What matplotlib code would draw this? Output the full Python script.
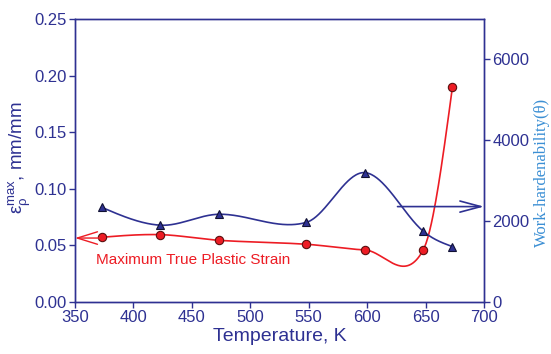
import numpy as np
import matplotlib
matplotlib.use("Agg")
import matplotlib.pyplot as plt

plt.rcParams['font.family'] = ['Liberation Sans', 'DejaVu Sans']
plt.rcParams['mathtext.fontset'] = 'custom'
plt.rcParams['mathtext.rm'] = 'Liberation Sans'
plt.rcParams['mathtext.it'] = 'Liberation Sans'

temperature = [373, 423, 473, 548, 598, 648, 673]
strain = [0.0572, 0.0595, 0.0545, 0.051, 0.046, 0.046, 0.190]
work_hardenability = [2340, 1900, 2170, 1970, 3200, 1750, 1370]

x_ticks = [350, 400, 450, 500, 550, 600, 650, 700]
y_ticks = [0.00, 0.05, 0.10, 0.15, 0.20, 0.25]
y2_ticks = [0, 2000, 4000, 6000]

AX = '#2e3192'
RED = '#ed1c24'
BLUE = '#2e3192'
LBLUE = '#3b8fd4'


def smooth_curve(x, y, n=400):
    """Cubic Hermite curve through the points (Catmull-Rom style tangents)."""
    x = np.asarray(x, float)
    y = np.asarray(y, float)
    k = len(x)
    m = np.zeros(k)
    for i in range(1, k - 1):
        m[i] = (y[i + 1] - y[i - 1]) / (x[i + 1] - x[i - 1])
    s0 = (y[1] - y[0]) / (x[1] - x[0])
    s1 = (y[-1] - y[-2]) / (x[-1] - x[-2])
    m[0] = (3 * s0 - m[1]) / 2
    m[-1] = (3 * s1 - m[-2]) / 2
    xs = np.linspace(x[0], x[-1], n)
    ys = np.empty_like(xs)
    for j, xv in enumerate(xs):
        i = int(np.clip(np.searchsorted(x, xv, side='right') - 1, 0, k - 2))
        h = x[i + 1] - x[i]
        t = (xv - x[i]) / h
        h00 = 2 * t**3 - 3 * t**2 + 1
        h10 = t**3 - 2 * t**2 + t
        h01 = -2 * t**3 + 3 * t**2
        h11 = t**3 - t**2
        ys[j] = h00 * y[i] + h10 * h * m[i] + h01 * y[i + 1] + h11 * h * m[i + 1]
    return xs, ys


fig = plt.figure(figsize=(5.51, 3.54), dpi=100)
ax = fig.add_axes([75 / 551, 1 - 302 / 354, 409 / 551, 283 / 354])
ax2 = ax.twinx()

xs, ys = smooth_curve(temperature, strain)
ax.plot(xs, ys, color=RED, lw=1.2, zorder=3)
ax.plot(temperature, strain, 'o', ms=6, mfc=RED, mec='#5a1010', mew=0.8, zorder=4)

xs2, ys2 = smooth_curve(temperature, work_hardenability)
ax2.plot(xs2, ys2, color=BLUE, lw=1.2, zorder=3)
ax2.plot(temperature, work_hardenability, '^', ms=6, mfc=BLUE, mec='#111133', mew=0.8, zorder=4)

ax.set_xlim(350, 700)
ax.set_ylim(0, 0.25)
ax2.set_ylim(0, 7000)
ax.set_xticks(x_ticks)
ax.set_yticks(y_ticks)
ax.set_yticklabels([f'{v:.2f}' for v in y_ticks])
ax2.set_yticks(y2_ticks)

for a in (ax, ax2):
    for s in a.spines.values():
        s.set_color(AX)
        s.set_linewidth(1.0)
    a.tick_params(direction='out', length=4, width=1, color=AX, labelcolor=AX, labelsize=12, pad=2)

ax.set_xlabel('Temperature, K', fontsize=14, color=AX, labelpad=2)
fig.text(20 / 551, 1 - 158 / 354, r'$\mathrm{ε_ρ^{max}}$, mm/mm', fontsize=13.5, color=AX,
         rotation=90, ha='center', va='center')
fig.text(542 / 551, 1 - 172 / 354, 'Work-hardenability(θ)', fontsize=12, color=LBLUE,
         family=['Liberation Serif', 'DejaVu Serif'], rotation=90, ha='center', va='center')

ax.annotate('', xy=(350, strain[0] - 0.0007), xytext=(temperature[0], strain[0] - 0.0007),
            arrowprops=dict(arrowstyle='->,head_length=1.45,head_width=0.45', color=RED, lw=1.0,
                            shrinkA=0, shrinkB=0),
            annotation_clip=False, zorder=5)
ax2.annotate('', xy=(700, 2360), xytext=(626, 2360),
             arrowprops=dict(arrowstyle='->,head_length=1.5,head_width=0.4', color=BLUE, lw=1.2,
                             shrinkA=0, shrinkB=0),
             annotation_clip=False, zorder=5)

ax.text(368, 0.037, 'Maximum True Plastic Strain', color=RED, fontsize=11, va='center', ha='left')

fig.savefig('out.png', dpi=100)
